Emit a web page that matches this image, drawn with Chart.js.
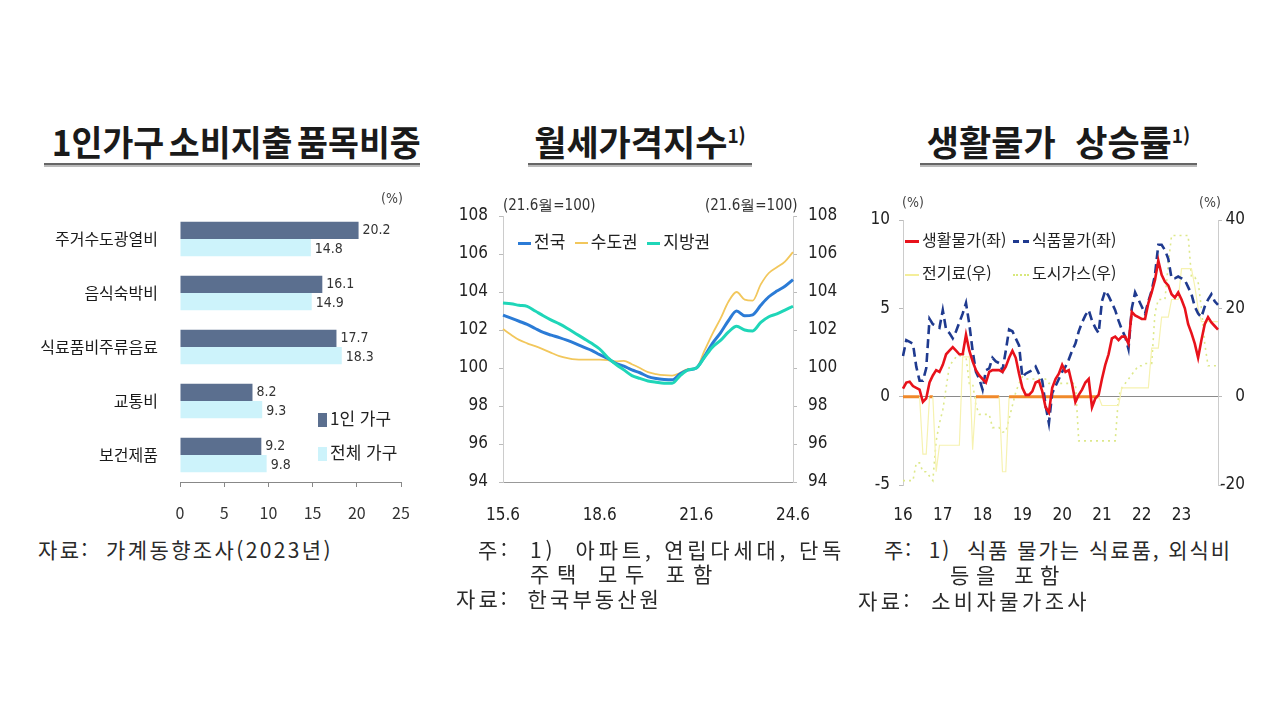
<!DOCTYPE html>
<html lang="ko">
<head>
<meta charset="utf-8">
<script src="https://cdn.jsdelivr.net/npm/chart.js@4.4.1/dist/chart.umd.min.js"></script>
<style>
  body { margin: 0; width: 1280px; height: 720px; background: #fff; position: relative; overflow: hidden;
         font-family: "Noto Sans CJK KR", "Noto Sans", sans-serif; color: #222; }
  .abs { position: absolute; white-space: pre; }
  canvas { position: absolute; }
  .title { position: absolute; height: 44px; line-height: 44px; text-align: center; font-size: 35px; font-weight: 700;
           color: #1a1a1a; border-bottom: 2px solid #666; box-shadow: 0 2px 0 #bbb; white-space: nowrap; }
  .title sup { font-size: 19px; vertical-align: 13px; line-height: 0; }
  .note { position: absolute; font-size: 21px; line-height: 24px; color: #2a2a2a; white-space: pre; }
  .narrow { font-family: "Liberation Sans Narrow", "DejaVu Sans Condensed", "Liberation Sans", sans-serif; }
  .leg { position: absolute; font-size: 16px; line-height: 20px; white-space: nowrap; color: #222; }
  .mk { display: inline-block; vertical-align: middle; margin-right: 3px; }
</style>
</head>
<body>

<div class="title" style="left:44px; top:119px; width:376px;"><span style="display:inline-block; transform:scaleX(0.96); word-spacing:-5px;">1인가구 소비지출 품목비중</span></div>
<div class="title" style="left:528px; top:119px; width:224px;">월세가격지수<sup>1)</sup></div>
<div class="title" style="left:920px; top:119px; width:277px;">생활물가&nbsp; 상승률<sup>1)</sup></div>

<canvas id="shareChart" width="430" height="350" style="left:0px; top:180px;"></canvas>
<canvas id="rentChart" width="400" height="345" style="left:440px; top:190px;"></canvas>
<canvas id="priceChart" width="395" height="335" style="left:850px; top:195px;"></canvas>

<!-- chart 1 extras -->
<div class="abs narrow" style="left:381px; top:190px; font-size:14px; color:#444;">(%)</div>
<div class="leg" style="left:318px; top:408px; font-size:17px;"><span class="mk" style="width:9px; height:14px; background:#5b6f8f;"></span>1인 가구</div>
<div class="leg" style="left:318px; top:442px; font-size:17px;"><span class="mk" style="width:9px; height:14px; background:#cdf3fb;"></span>전체 가구</div>

<!-- chart 2 extras -->
<div class="abs narrow" style="left:503px; top:196px; font-size:15px; color:#333;">(21.6월=100)</div>
<div class="abs narrow" style="left:705px; top:196px; font-size:15px; color:#333;">(21.6월=100)</div>
<div class="leg" style="left:518px; top:231px; font-size:17px;"><span class="mk" style="width:13px; border-top:3px solid #2b7bd6;"></span>전국 &nbsp;<span class="mk" style="width:13px; border-top:2px solid #f2c75c;"></span>수도권 &nbsp;<span class="mk" style="width:13px; border-top:3px solid #1fd6b8;"></span>지방권</div>

<!-- chart 3 extras -->
<div class="abs narrow" style="left:902px; top:194px; font-size:14px; color:#444;">(%)</div>
<div class="abs narrow" style="left:1199px; top:194px; font-size:14px; color:#444;">(%)</div>
<div class="leg" style="left:905px; top:229px;"><span class="mk" style="width:14px; border-top:3px solid #e8121b;"></span>생활물가(좌)</div>
<div class="leg" style="left:1013px; top:229px;"><span class="mk" style="width:16px; border-top:3px dashed #1f3a8f;"></span>식품물가(좌)</div>
<div class="leg" style="left:905px; top:262px;"><span class="mk" style="width:14px; border-top:2px solid #f4ee9a;"></span>전기료(우)</div>
<div class="leg" style="left:1013px; top:262px;"><span class="mk" style="width:16px; border-top:2px dotted #d8e87c;"></span>도시가스(우)</div>

<!-- notes (letter spacing fitted to width below) -->
<div class="note" data-w="295" style="left:38px; top:537px;">자료:  가계동향조사(2023년)</div>
<div class="note" data-w="367" style="left:478px; top:537px;">주:  1)  아파트, 연립다세대, 단독</div>
<div class="note" data-w="190" style="left:530px; top:561px;">주택 모두 포함</div>
<div class="note" data-w="206" style="left:456px; top:586px;">자료:  한국부동산원</div>
<div class="note" data-w="348" style="left:884px; top:537px;">주:  1)  식품 물가는 식료품, 외식비</div>
<div class="note" data-w="116" style="left:950px; top:562px;">등을 포함</div>
<div class="note" data-w="232" style="left:858px; top:588px;">자료:  소비자물가조사</div>

<script>
// ---- 1인가구 소비지출 품목비중 ----
const barCategories = ['주거수도광열비', '음식숙박비', '식료품비주류음료', '교통비', '보건제품'];
const singleHousehold = [20.2, 16.1, 17.7, 8.2, 9.2];
const allHouseholds = [14.8, 14.9, 18.3, 9.3, 9.8];

// ---- 월세가격지수 (quarterly readings) ----
const rentQuarters = ['15.6','15.9','15.12','16.3','16.6','16.9','16.12','17.3','17.6','17.9','17.12','18.3',
  '18.6','18.9','18.12','19.3','19.6','19.9','19.12','20.3','20.6','20.9','20.12','21.3',
  '21.6','21.9','21.12','22.3','22.6','22.9','22.12','23.3','23.6','23.9','23.12','24.3','24.6'];
const rentTickLabels = ['15.6', '18.6', '21.6', '24.6'];
const rentNation = [102.78,102.62,102.46,102.3,102.08,101.87,101.73,101.6,101.45,101.28,101.1,100.93,
  100.7,100.5,100.25,100.1,99.9,99.75,99.55,99.45,99.4,99.38,99.7,99.9,
  100.0,100.6,101.3,101.85,102.5,103.0,102.75,102.8,103.3,103.75,104.05,104.3,104.65];
const rentCapital = [102.05,101.75,101.48,101.3,101.15,100.98,100.8,100.63,100.52,100.45,100.44,100.44,
  100.44,100.42,100.35,100.38,100.2,100.0,99.78,99.68,99.62,99.6,99.75,99.95,
  100.0,100.9,101.8,102.6,103.5,104.0,103.6,103.55,104.4,105.0,105.3,105.6,106.1];
const rentProvince = [103.42,103.38,103.3,103.24,103.0,102.75,102.52,102.32,102.08,101.82,101.56,101.3,
  101.0,100.55,100.2,99.9,99.6,99.45,99.32,99.25,99.2,99.2,99.6,99.9,
  100.0,100.55,101.1,101.45,101.9,102.2,102.0,101.95,102.4,102.7,102.85,103.05,103.25];

// ---- 생활물가 상승률 (monthly, 16.1 ~ 23.12) ----
const priceYears = ['16', '17', '18', '19', '20', '21', '22', '23'];
const livingPrice = [
  0.45,0.8,0.85,0.6,0.5,0.4,-0.3,-0.1,0.8,1.2,1.5,1.4,
  1.8,2.4,2.6,2.8,2.6,2.4,2.4,3.5,2.6,2.0,1.5,1.2,
  1.0,0.8,1.4,1.5,1.5,1.5,1.4,1.7,2.2,2.6,2.2,1.3,
  0.5,0.1,0.1,0.3,0.8,0.9,0.3,-0.6,-0.9,0.5,1.0,1.3,
  1.8,1.4,1.5,0.7,-0.3,0.1,0.4,0.8,1.0,-0.6,-0.1,0.1,
  1.0,1.8,2.4,3.3,3.4,3.2,3.4,3.4,3.0,4.8,4.6,4.5,
  4.4,4.4,5.3,5.9,6.6,7.7,6.9,6.5,6.3,5.8,5.6,5.9,
  5.5,5.0,4.1,3.6,3.0,2.2,3.2,4.1,4.5,4.2,4.0,3.8];
const foodPrice = [
  2.3,3.2,3.1,3.0,1.7,0.9,0.9,1.6,4.4,4.1,4.0,3.9,
  4.9,3.8,3.6,3.3,3.7,4.2,4.7,5.3,4.1,2.6,1.4,1.0,
  0.4,1.5,1.6,2.2,2.0,1.9,1.5,2.6,3.8,3.7,3.3,2.9,
  1.1,1.3,1.4,1.5,1.7,1.3,0.9,-0.5,-1.5,0.2,0.6,1.0,
  1.4,1.7,2.1,2.6,3.0,3.7,4.2,4.6,4.9,4.3,3.9,3.6,
  5.4,6.0,5.7,5.3,4.9,4.3,3.8,3.4,2.7,5.0,5.9,5.5,
  5.1,4.7,5.4,6.0,6.9,8.6,8.6,8.3,7.8,6.7,6.7,6.8,
  6.7,6.6,6.2,5.8,5.1,4.7,4.5,5.1,5.5,5.8,5.4,5.2];
const electricity = [
  0,0,0,0,0,0,-13,-13,0,0,-17,-11,
  -11,-11,-11,-11,-11,-11,9,9,9,-12,0,0,
  0,0,0,0,0,0,-17,-17,0,0,0,0,
  0,0,0,0,0,0,0,0,0,0,0,0,
  0,0,0,0,0,0,0,0,0,0,0,0,
  -2,-2,-2,-2,-2,-2,2,2,2,2,2,2,
  2,2,2,11,11,11,18,18,18,22,22,22,
  29,29,29,29,25,20,17,17,17,17,17,17];
const cityGas = [
  -19,-19,-19,-19,-15,-15,-17,-17,-18,-19,-10,-6,
  -3,2,7,8,9,9,10,9,3,3,-2,-4,
  -4,-4,-4,-7,-7,-7,-8,-8,-5,-2,1,3,
  4.5,4,4,4,4,4,4,4,3,3,3,3,
  3,3,3,3,3,-10,-10,-10,-10,-10,-10,-10,
  -10,-10,-10,-10,-10,0,2,3,4,5,6,7,
  7,7.5,7.5,7.5,19,22,22,22,30,36.5,36.5,36.5,
  36.5,36.5,36.5,27,27,26,20,12,7,7,7,7];
const priceMonths = priceYears.flatMap(y => Array.from({ length: 12 }, (_, i) => y + '.' + (i + 1)));

// stretch the source / note lines to the widths of the original
document.querySelectorAll('.note').forEach(el => {
  const w = el.getBoundingClientRect().width;
  const n = el.textContent.length;
  el.style.letterSpacing = ((parseFloat(el.dataset.w) - w) / n).toFixed(2) + 'px';
});

const narrowFont = '"Liberation Sans Narrow", "DejaVu Sans Condensed", "Liberation Sans", sans-serif';
Chart.defaults.font.family = '"Noto Sans CJK KR", "Noto Sans", sans-serif';
Chart.defaults.color = '#222';
Chart.defaults.animation = false;

// value labels next to the bars
const barValueLabels = {
  id: 'barValueLabels',
  afterDatasetsDraw(chart) {
    const ctx = chart.ctx;
    ctx.save();
    ctx.font = '14px ' + narrowFont;
    ctx.fillStyle = '#333';
    ctx.textBaseline = 'middle';
    chart.data.datasets.forEach((ds, i) => {
      chart.getDatasetMeta(i).data.forEach((bar, j) => {
        ctx.fillText(ds.data[j].toFixed(1), bar.x + 4, bar.y + (i ? 2 : 0));
      });
    });
    ctx.restore();
  }
};

new Chart(document.getElementById('shareChart'), {
  type: 'bar',
  data: {
    labels: barCategories,
    datasets: [
      { label: '1인 가구', data: singleHousehold, backgroundColor: '#5b6f8f', categoryPercentage: 0.64, barPercentage: 1.0 },
      { label: '전체 가구', data: allHouseholds, backgroundColor: '#cdf3fb', categoryPercentage: 0.64, barPercentage: 1.0 }
    ]
  },
  options: {
    responsive: false,
    indexAxis: 'y',
    layout: { padding: { top: 32, right: 29, left: 0, bottom: 0 } },
    plugins: { legend: { display: false }, tooltip: { enabled: false } },
    scales: {
      x: {
        min: 0, max: 25,
        ticks: { stepSize: 5, padding: 16, font: { size: 16 }, color: '#333' },
        grid: { drawOnChartArea: false, tickLength: 5, color: '#888' },
        border: { display: true, color: '#888' },
        afterFit: s => { s.height = 48; }
      },
      y: {
        ticks: { padding: 14, font: { size: 16 }, color: '#1a1a1a' },
        grid: { display: false },
        border: { display: false },
        afterFit: s => { s.width = 180; }
      }
    }
  },
  plugins: [barValueLabels]
});

new Chart(document.getElementById('rentChart'), {
  type: 'line',
  data: {
    labels: rentQuarters,
    datasets: [
      { label: '지방권', data: rentProvince, borderColor: '#1fd6b8', borderWidth: 3, pointRadius: 0, cubicInterpolationMode: 'monotone' },
      { label: '전국', data: rentNation, borderColor: '#2b7bd6', borderWidth: 3, pointRadius: 0, cubicInterpolationMode: 'monotone' },
      { label: '수도권', data: rentCapital, borderColor: '#f2c75c', borderWidth: 1.8, pointRadius: 0, cubicInterpolationMode: 'monotone' }
    ]
  },
  options: {
    responsive: false,
    layout: { padding: { top: 26, right: 0, left: 0, bottom: 0 } },
    plugins: { legend: { display: false }, tooltip: { enabled: false } },
    scales: {
      x: {
        ticks: {
          autoSkip: false, maxRotation: 0, padding: 15, font: { family: narrowFont, size: 17 }, color: '#222',
          callback: (v, i) => rentTickLabels.includes(rentQuarters[i]) ? rentQuarters[i] : ''
        },
        grid: { display: false },
        border: { display: true, color: '#999' },
        afterFit: s => { s.height = 53; }
      },
      y: {
        position: 'left', min: 94, max: 108,
        ticks: { stepSize: 2, padding: 11, font: { family: narrowFont, size: 17 }, color: '#222' },
        grid: { drawOnChartArea: false, tickLength: 4, color: '#bbb' },
        border: { display: true, color: '#ccc' },
        afterFit: s => { s.width = 63; }
      },
      y2: {
        position: 'right', min: 94, max: 108,
        ticks: { stepSize: 2, padding: 11, font: { family: narrowFont, size: 17 }, color: '#222' },
        grid: { drawOnChartArea: false, tickLength: 4, color: '#bbb' },
        border: { display: true, color: '#ccc' },
        afterFit: s => { s.width = 47; }
      }
    }
  }
});

new Chart(document.getElementById('priceChart'), {
  type: 'line',
  data: {
    labels: priceMonths,
    datasets: [
      { label: '생활물가(좌)', data: livingPrice, yAxisID: 'y', borderColor: '#e8121b', borderWidth: 2.6, pointRadius: 0, tension: 0 },
      { label: '식품물가(좌)', data: foodPrice, yAxisID: 'y', borderColor: '#1f3a8f', borderWidth: 2.6, borderDash: [9, 5], pointRadius: 0, tension: 0 },
      { label: '전기료(우)', data: electricity, yAxisID: 'y2', borderColor: '#f6f2b0', borderWidth: 1.2, pointRadius: 0, tension: 0,
        segment: {
          borderColor: c => (c.p0.parsed.y === 0 && c.p1.parsed.y === 0) ? '#f0892a' : '#f6f2b0',
          borderWidth: c => (c.p0.parsed.y === 0 && c.p1.parsed.y === 0) ? 3 : 1.2
        } },
      { label: '도시가스(우)', data: cityGas, yAxisID: 'y2', borderColor: '#dde88a', borderWidth: 1.6, borderDash: [2, 4], pointRadius: 0, tension: 0 }
    ]
  },
  options: {
    responsive: false,
    layout: { padding: { top: 25, right: 0, left: 0, bottom: 0 } },
    plugins: { legend: { display: false }, tooltip: { enabled: false } },
    scales: {
      x: {
        ticks: {
          autoSkip: false, maxRotation: 0, padding: 12, font: { family: narrowFont, size: 17 }, color: '#222',
          callback: (v, i) => i % 12 === 0 ? priceYears[i / 12] : ''
        },
        grid: { display: false },
        border: { display: false },
        afterFit: s => { s.height = 45; }
      },
      y: {
        position: 'left', min: -5, max: 10,
        ticks: { stepSize: 5, padding: 9, font: { family: narrowFont, size: 17 }, color: '#222' },
        grid: { color: c => c.tick && c.tick.value === 0 ? '#8a8a8a' : 'rgba(0,0,0,0)', tickLength: 4, tickColor: '#bbb' },
        border: { display: true, color: '#ccc' },
        afterFit: s => { s.width = 53; }
      },
      y2: {
        position: 'right', min: -20, max: 40,
        ticks: { stepSize: 20, padding: 2, crossAlign: 'far', font: { family: narrowFont, size: 17 }, color: '#222' },
        grid: { drawOnChartArea: false, tickLength: 4, color: '#bbb' },
        border: { display: true, color: '#ccc' },
        afterFit: s => { s.width = 27; }
      }
    }
  }
});
</script>
</body>
</html>
